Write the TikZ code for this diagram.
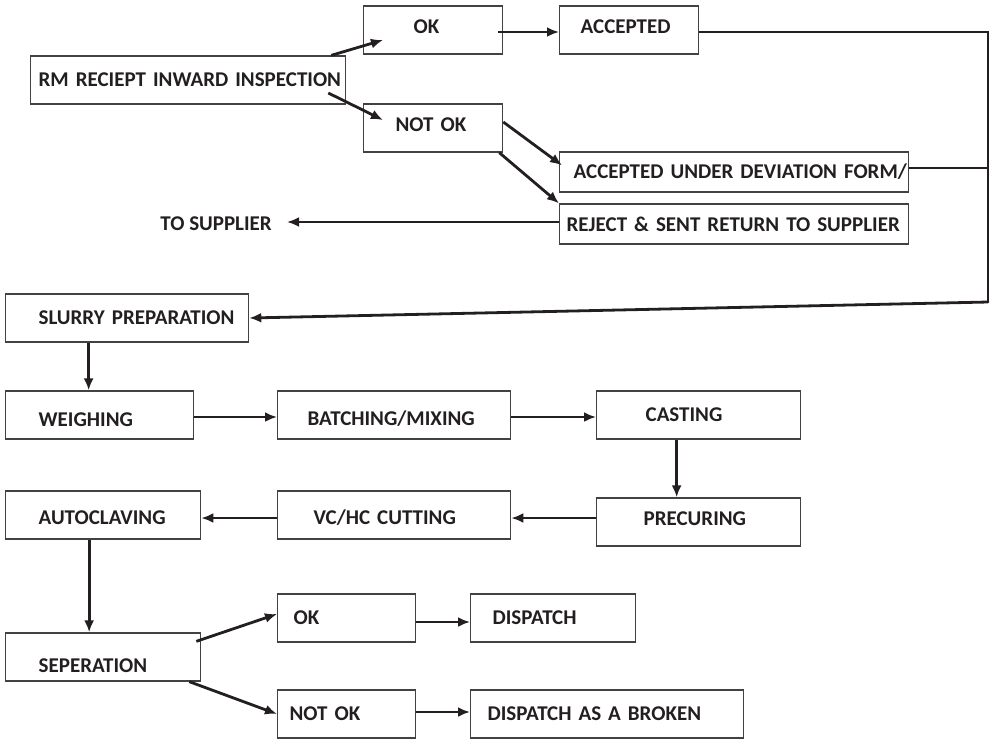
\documentclass[tikz,border=0pt]{standalone}
\usepackage{fontspec}
\setmainfont{Carlito}
\usetikzlibrary{arrows.meta, calc, positioning}
\definecolor{ink}{HTML}{231F20}
\newcommand{\ind}[1]{\hspace*{#1pt}}
\newcommand{\low}[2]{\raisebox{-#1pt}[\height][\depth]{#2}}
\tikzstyle{stage} = [rectangle, draw=ink!85, line width=1.3pt, anchor=west, minimum height=48pt,
text=ink, align=left, font=\fontsize{21}{23}\selectfont\bfseries, inner xsep=0pt, inner ysep=0pt]
\tikzstyle{thin} = [minimum height=40pt]
\tikzstyle{arrow} = [line width=2.8pt, draw=ink, -{Latex[length=12pt,width=10pt]}]
\tikzstyle{wire} = [line width=2.8pt, draw=ink]

\begin{document}
\begin{tikzpicture}[x=1pt, y=1pt]
  \useasboundingbox (0,0) rectangle (992,-740);
  % incoming material
  \node (rm) [stage, text width=315pt] at (30,-80) {\ind{8}RM RECIEPT INWARD INSPECTION};
  \node (ok1) [stage, text width=139pt] at (363,-30) {\ind{50}\low{-3}{OK}};
  \node (acc) [stage, text width=139pt] at (559,-30) {\ind{21}\low{-3}{ACCEPTED}};
  \node (nok1) [stage, text width=139pt] at (363,-128) {\ind{32}\low{-3}{NOT OK}};
  \node (accdev) [stage, thin, text width=349pt] at (559,-172) {\ind{14}ACCEPTED UNDER DEVIATION FORM/};
  \node (rej) [stage, thin, text width=349pt] at (559,-224) {\ind{7}REJECT \& SENT RETURN TO SUPPLIER};
  \node (tosup) [text=ink, font=\fontsize{21}{23}\selectfont\bfseries, anchor=east, inner xsep=15pt] at (287,-224) {TO SUPPLIER};
  \coordinate (corner) at (988,-302);

  % production line
  \node (slurry) [stage, text width=243pt] at (5,-318) {\ind{33}SLURRY PREPARATION};
  \node (weigh) [stage, text width=188pt] at (5,-415) {\ind{33}\low{5}{WEIGHING}};
  \node (batch) [stage, text width=233pt] at (277,-415) {\ind{30}\low{4}{BATCHING/MIXING}};
  \node (cast) [stage, text width=204pt] at (596,-415) {\ind{49}CASTING};
  \node (precur) [stage, text width=204pt] at (596,-522) {\ind{47}\low{-3}{PRECURING}};
  \node (vchc) [stage, text width=233pt] at (277,-515) {\ind{36}\low{3}{VC/HC CUTTING}};
  \node (autoc) [stage, text width=195pt] at (5,-515) {\ind{33}\low{3}{AUTOCLAVING}};
  \node (sep) [stage, text width=195pt] at (5,-657) {\ind{33}\low{9}{SEPERATION}};
  \node (ok2) [stage, text width=138pt] at (277,-618) {\ind{16}OK};
  \node (nok2) [stage, text width=138pt] at (277,-714) {\ind{12}NOT OK};
  \node (disp) [stage, text width=165pt] at (470,-618) {\ind{22}DISPATCH};
  \node (dispbr) [stage, text width=273pt] at (470,-714) {\ind{17}DISPATCH AS A BROKEN};

  \draw [arrow] ([xshift=-15pt]rm.north east) -- ([xshift=20pt,yshift=-10pt]ok1.west);
  \draw [arrow] ([xshift=-18pt,yshift=-13pt]rm.east) -- ([xshift=20pt,yshift=8pt]nok1.west);
  \draw [arrow] ([xshift=-5pt,yshift=-2pt]ok1.east) -- ([yshift=-2pt]acc.west);
  \draw [arrow] ([yshift=6pt]nok1.east) -- ([xshift=3pt,yshift=-14pt]accdev.north west);
  \draw [arrow] ([xshift=-4pt]nok1.south east) -- (rej.north west);
  \draw [arrow] ([yshift=2pt]rej.west) -- ([yshift=2pt]tosup.east);
  \draw [wire] ([yshift=-2pt]acc.east) -| (corner);
  \draw [wire] ([yshift=4pt]accdev.east) -- ([yshift=4pt]accdev.east -| corner);
  \draw [arrow, line cap=round] (corner) -- (slurry.east);
  \draw [arrow] ([xshift=-11pt]weigh.north |- slurry.south) -- ([xshift=-11pt]weigh.north);
  \draw [arrow] ([yshift=-2pt]weigh.east) -- ([yshift=-2pt]batch.west);
  \draw [arrow] ([yshift=-2pt]batch.east) -- ([yshift=-2pt]cast.west);
  \draw [arrow] ([xshift=-22pt]cast.south) -- ([xshift=-22pt]precur.north);
  \draw [arrow] ([yshift=-3pt]precur.west |- vchc.east) -- ([yshift=-3pt]vchc.east);
  \draw [arrow] ([yshift=-3pt]vchc.west) -- ([yshift=-3pt]autoc.east);
  \draw [arrow] ([xshift=-14pt]autoc.south) -- ([xshift=-14pt]sep.north);
  \draw [arrow] ([xshift=-5pt,yshift=-9pt]sep.north east) -- ([yshift=4pt]ok2.west);
  \draw [arrow] ([xshift=-12pt]sep.south east) -- (nok2.west);
  \draw [arrow] ([yshift=-4pt]ok2.east) -- ([yshift=-4pt]disp.west);
  \draw [arrow] ([yshift=2pt]nok2.east) -- ([yshift=2pt]dispbr.west);
\end{tikzpicture}
\end{document}
